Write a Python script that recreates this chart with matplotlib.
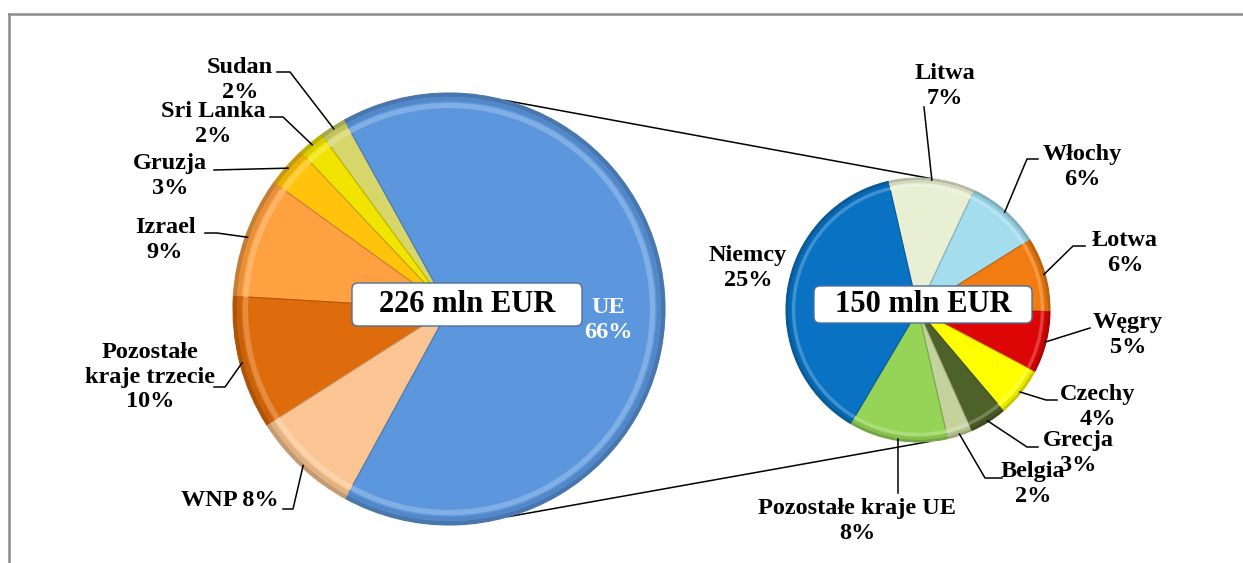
import matplotlib
matplotlib.use("Agg")
import matplotlib.pyplot as plt
import numpy as np
from matplotlib.patches import Wedge, FancyBboxPatch
from matplotlib.colors import to_rgb

W, H = 1243, 563

# left pie - all destinations (226 mln EUR), drawn counterclockwise
world_names = ["Sudan", "Sri Lanka", "Gruzja", "Izrael", "Pozostałe\nkraje trzecie", "WNP", "UE"]
world_pct = [2, 2, 3, 9, 10, 8, 66]
world_sep = ["\n", "\n", "\n", "\n", "\n", " ", "\n"]
world_colors = ["#D6D66A", "#F0E400", "#FFC30C", "#FFA140", "#DE6C0C", "#FAC592", "#5C97DE"]

# right pie - breakdown of UE (150 mln EUR), drawn clockwise
eu_names = ["Litwa", "Włochy", "Łotwa", "Węgry", "Czechy", "Grecja", "Belgia",
            "Pozostałe kraje UE", "Niemcy"]
eu_pct = [7, 6, 6, 5, 4, 3, 2, 8, 25]
eu_colors = ["#E9EFD3", "#A3DDEE", "#F07C12", "#DD0606", "#FFFF00", "#4E6128",
             "#C5D29E", "#95D457", "#0A72C2"]

left_total = "226 mln EUR"
right_total = "150 mln EUR"

FONT = ["Liberation Serif", "DejaVu Serif"]


def py(y):
    # pixel row -> data y
    return H - y


def shade(c, f):
    r, g, b = to_rgb(c)
    if f < 1:
        return (r * f, g * f, b * f)
    f = f - 1
    return (r + (1 - r) * f, g + (1 - g) * f, b + (1 - b) * f)


def bevel(ax, wedges, colors):
    for w, c in zip(wedges, colors):
        cx, cy = w.center
        r = w.r
        t1, t2 = w.theta1, w.theta2
        w.set_edgecolor(shade(c, 0.8))
        w.set_linewidth(0.8)
        ax.add_patch(Wedge((cx, cy), r, t1, t2, width=r * 0.018,
                           facecolor=shade(c, 0.78), edgecolor="none", zorder=3))
        ax.add_patch(Wedge((cx, cy), r * 0.982, t1, t2, width=r * 0.02,
                           facecolor=shade(c, 0.9), edgecolor="none", zorder=3))
        ax.add_patch(Wedge((cx, cy), r * 0.955, t1, t2, width=r * 0.025,
                           facecolor=shade(c, 1.22), edgecolor="none", zorder=3))


fig = plt.figure(figsize=(W / 100, H / 100), dpi=100)
ax = fig.add_axes([0, 0, 1, 1])

left_c, left_r = (449, py(309)), 216
right_c, right_r = (918, py(310)), 132

wl, _ = ax.pie(world_pct, colors=world_colors, center=left_c, radius=left_r,
               startangle=119, counterclock=True,
               wedgeprops=dict(zorder=2))
wr, _ = ax.pie(eu_pct, colors=eu_colors, center=right_c, radius=right_r,
               startangle=103, counterclock=False,
               wedgeprops=dict(zorder=2))
bevel(ax, wl, world_colors)
bevel(ax, wr, eu_colors)


def rim(c, r, ang):
    a = np.deg2rad(ang)
    return c[0] + r * np.cos(a), c[1] + r * np.sin(a)


# connector lines between the two pies
p1 = rim(left_c, left_r, 75)
p2 = rim(right_c, right_r, 84)
p3 = rim(left_c, left_r, -74)
p4 = rim(right_c, right_r, -85)
ax.plot([p1[0], p2[0]], [p1[1], p2[1]], color="black", lw=1.1, zorder=1)
ax.plot([p3[0], p4[0]], [p3[1], p4[1]], color="black", lw=1.1, zorder=1)

# label positions (pixel coords) and leader line elbows
world_txt = [(240, 80), (213, 124), (170, 176), (165, 240), (150, 377), (230, 500), (608, 320)]
world_lead = [[(277, 72), (290, 72)], [(270, 117), (283, 117)], [(214, 170)],
              [(205, 233), (217, 233)], [(214, 387), (225, 387)],
              [(283, 509), (293, 509)], None]
eu_txt = [(945, 86), (1082, 167), (1125, 253), (1128, 335), (1098, 407),
          (1078, 453), (1033, 484), (857, 521), (748, 268)]
eu_lead = [[(924, 107)], [(1038, 159), (1027, 159)], [(1085, 246), (1073, 246)],
           [(1090, 328)], [(1057, 400), (1046, 400)], [(1038, 447), (1027, 447)],
           [(1002, 478), (985, 478)], [(898, 493)], None]


def labels(wedges, names, pct, seps, txt, lead, c, r, white=None):
    for i, w in enumerate(wedges):
        s = f"{names[i]}{seps[i]}{pct[i]}%"
        col = "white" if i == white else "black"
        ax.text(txt[i][0], py(txt[i][1]), s, ha="center", va="center",
                fontsize=17.5, fontweight="bold", family=FONT, color=col,
                linespacing=1.2, zorder=6)
        pts = lead[i]
        if pts is None:
            continue
        mid = (w.theta1 + w.theta2) / 2
        end = rim(c, r * 0.99, mid)
        xs = [p[0] for p in pts] + [end[0]]
        ys = [py(p[1]) for p in pts] + [end[1]]
        ax.plot(xs, ys, color="black", lw=1.1, zorder=5)


labels(wl, world_names, world_pct, world_sep, world_txt, world_lead, left_c, left_r, white=6)
labels(wr, eu_names, eu_pct, ["\n"] * len(eu_names), eu_txt, eu_lead, right_c, right_r)


def total_box(x0, y0, x1, y1, s):
    ax.add_patch(FancyBboxPatch((x0 + 6, py(y1) + 6), x1 - x0 - 12, y1 - y0 - 12,
                                boxstyle="round,pad=6", facecolor="white",
                                edgecolor="#4F6F9C", lw=1.0, zorder=7))
    ax.text((x0 + x1) / 2, py((y0 + y1) / 2), s, ha="center", va="center",
            fontsize=22, fontweight="bold", family=FONT, zorder=8)


total_box(352, 283, 582, 326, left_total)
total_box(814, 286, 1032, 323, right_total)

# chart area border (top and left visible)
ax.plot([9, W], [py(14), py(14)], color="#8C8C8C", lw=1.8, zorder=0)
ax.plot([9, 9], [py(14), 0], color="#8C8C8C", lw=1.8, zorder=0)

ax.set_xlim(0, W)
ax.set_ylim(0, H)
ax.set_aspect("equal")
ax.axis("off")

fig.savefig("out.png", dpi=100)
